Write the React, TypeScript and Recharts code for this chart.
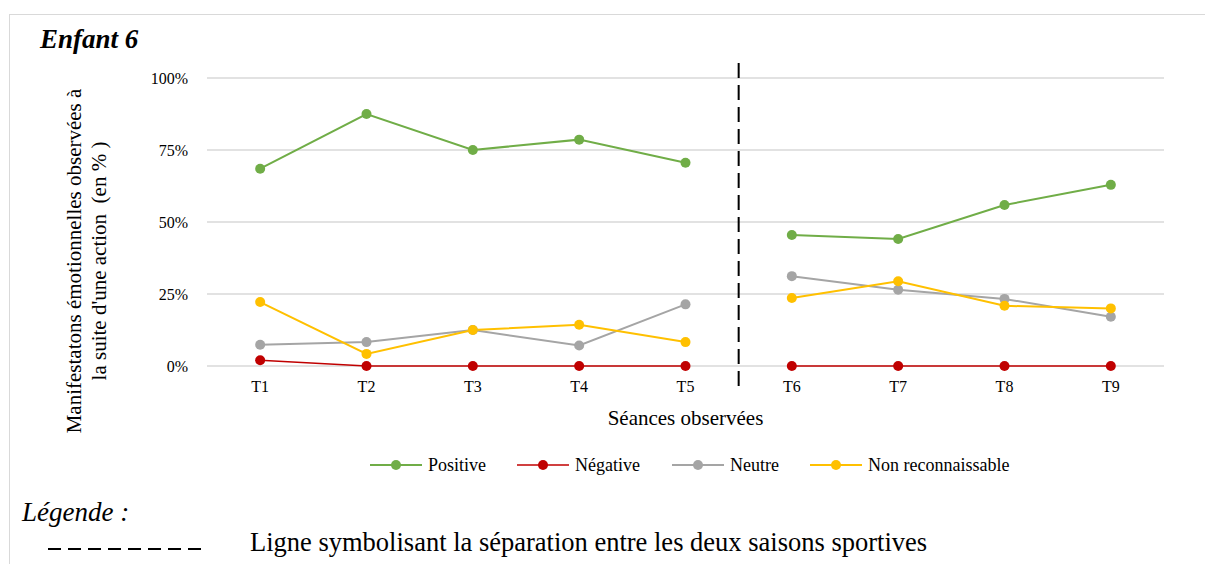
import { LineChart, Line, XAxis, YAxis, CartesianGrid, ReferenceLine } from "recharts";

const sessions = ["T1", "T2", "T3", "T4", "T5", "T6", "T7", "T8", "T9"];
const positive = [68.5, 87.5, 75, 78.6, 70.6, 45.5, 44.1, 55.9, 62.9];
const negative = [2, 0, 0, 0, 0, 0, 0, 0, 0];
const neutre = [7.4, 8.3, 12.5, 7.1, 21.4, 31.2, 26.5, 23.3, 17.1];
const nonReco = [22.2, 4.2, 12.5, 14.3, 8.3, 23.6, 29.4, 20.9, 20];
const yTicks = [0, 25, 50, 75, 100];

// les deux saisons : T1-T5 puis T6-T9, pas de trait entre T5 et T6
const splitAt = 5;

const series = [
  { key: "pos", name: "Positive", values: positive, color: "#70ad47", width: 2 },
  { key: "neg", name: "Négative", values: negative, color: "#c00000", width: 1.5 },
  { key: "neu", name: "Neutre", values: neutre, color: "#a5a5a5", width: 2 },
  { key: "nr", name: "Non reconnaissable", values: nonReco, color: "#ffc000", width: 2 },
];

const data = sessions.map((s, i) => {
  const row: Record<string, number | string | null> = { x: i + 1, label: s };
  series.forEach((se) => {
    row[se.key + "A"] = i < splitAt ? se.values[i] : null;
    row[se.key + "B"] = i >= splitAt ? se.values[i] : null;
  });
  return row;
});

const font = "'Liberation Serif', 'Times New Roman', serif";

function YLabel() {
  return (
    <g>
      <text
        x={81}
        y={261}
        transform="rotate(-90 81 261)"
        textAnchor="middle"
        fontSize={21}
        fill="#000"
        fontFamily={font}
      >
        Manifestatons émotionnelles observées à
      </text>
      <text
        x={106}
        y={261}
        transform="rotate(-90 106 261)"
        textAnchor="middle"
        fontSize={21}
        fill="#000"
        fontFamily={font}
        style={{ whiteSpace: "pre" }}
      >
        {"la suite d'une action  (en % )"}
      </text>
    </g>
  );
}

function Separator(props: any) {
  const top = Math.min(props.y1, props.y2);
  const bottom = Math.max(props.y1, props.y2);
  return (
    <line
      x1={props.x1}
      x2={props.x2}
      y1={top - 15}
      y2={bottom + 22}
      stroke="#000"
      strokeWidth={2}
      strokeDasharray="15 7"
    />
  );
}

const legendPos = [370, 517, 672, 810];

function App() {
  return (
    <div
      style={{
        position: "absolute",
        left: 0,
        top: 0,
        width: 1205,
        height: 564,
        fontFamily: font,
        background: "#fff",
        overflow: "hidden",
      }}
    >
      <div
        style={{
          position: "absolute",
          left: 9,
          top: 14,
          width: 1300,
          height: 700,
          borderTop: "1px solid #d9d9d9",
          borderLeft: "1px solid #d9d9d9",
        }}
      />
      <div
        style={{
          position: "absolute",
          left: 40,
          top: 22,
          fontSize: 27,
          fontWeight: "bold",
          fontStyle: "italic",
          lineHeight: "34px",
        }}
      >
        Enfant 6
      </div>
      <div style={{ position: "absolute", left: 0, top: 0 }}>
        <LineChart
          width={1205}
          height={490}
          data={data}
          margin={{ top: 78, right: 41, left: 0, bottom: 94 }}
        >
          <CartesianGrid vertical={false} stroke="#d9d9d9" strokeWidth={1.5} />
          <XAxis
            dataKey="x"
            type="number"
            domain={[0.5, 9.5]}
            ticks={[1, 2, 3, 4, 5, 6, 7, 8, 9]}
            tickFormatter={(v) => sessions[v - 1]}
            axisLine={false}
            tickLine={false}
            tickSize={0}
            tickMargin={15}
            height={30}
            tick={{ fill: "#000", fontSize: 16, fontFamily: font }}
            label={{
              value: "Séances observées",
              position: "bottom",
              offset: 14,
              fill: "#000",
              fontSize: 21,
              fontFamily: font,
            }}
          />
          <YAxis
            type="number"
            domain={[0, 100]}
            ticks={yTicks}
            tickFormatter={(v) => `${v}%`}
            axisLine={false}
            tickLine={false}
            tickSize={0}
            tickMargin={19}
            width={207}
            tick={{ fill: "#000", fontSize: 16, fontFamily: font }}
            label={{ content: () => <YLabel /> }}
          />
          <ReferenceLine x={5.5} shape={Separator} />
          {series.flatMap((se) =>
            ["A", "B"].map((part) => (
              <Line
                key={se.key + part}
                dataKey={se.key + part}
                stroke={se.color}
                strokeWidth={se.width}
                dot={{ r: 5, fill: se.color, stroke: se.color, strokeWidth: 0 }}
                activeDot={false}
                connectNulls={false}
                isAnimationActive={false}
                legendType="none"
              />
            ))
          )}
        </LineChart>
      </div>
      {series.map((se, i) => (
        <div
          key={se.key}
          style={{
            position: "absolute",
            left: legendPos[i],
            top: 454,
            height: 22,
            display: "flex",
            alignItems: "center",
            fontSize: 18,
          }}
        >
          <svg width={52} height={12} style={{ marginRight: 6 }}>
            <line x1={0} x2={52} y1={6} y2={6} stroke={se.color} strokeWidth={se.width} />
            <circle cx={26} cy={6} r={5} fill={se.color} />
          </svg>
          <span>{se.name}</span>
        </div>
      ))}
      <div
        style={{
          position: "absolute",
          left: 22,
          top: 496,
          fontSize: 27,
          fontStyle: "italic",
          lineHeight: "32px",
        }}
      >
        Légende :
      </div>
      <svg style={{ position: "absolute", left: 48, top: 544 }} width={160} height={10}>
        <line x1={0} x2={160} y1={5} y2={5} stroke="#000" strokeWidth={2} strokeDasharray="13 7" />
      </svg>
      <div
        style={{
          position: "absolute",
          left: 250,
          top: 526,
          fontSize: 26.5,
          lineHeight: "32px",
        }}
      >
        Ligne symbolisant la séparation entre les deux saisons sportives
      </div>
    </div>
  );
}

export default App;
